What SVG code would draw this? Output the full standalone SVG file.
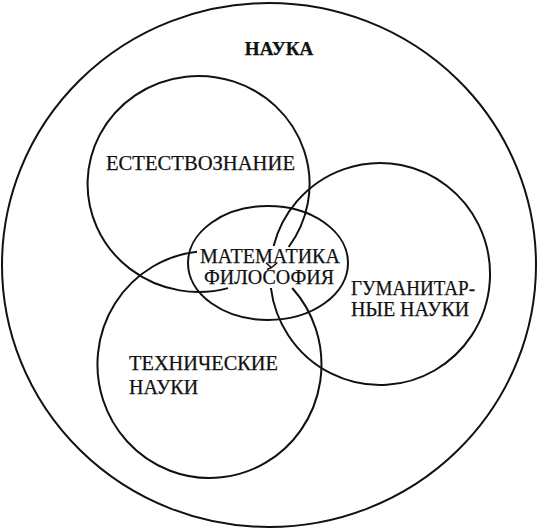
<svg xmlns="http://www.w3.org/2000/svg" width="538" height="530" viewBox="0 0 538 530">
<style>
.c{fill:none;stroke:#111;stroke-width:2}
.m{fill:none;stroke:#111;stroke-width:1.5}
.t{font-family:"Liberation Serif","Times New Roman","DejaVu Serif",serif;font-size:20px;fill:#111;stroke:#111;stroke-width:0.25}
.b{font-weight:bold;font-size:19px}
</style>
<rect width="538" height="530" fill="#fff"/>
<g id="connectors"></g>
<g id="nauka">
<ellipse class="c" cx="269" cy="265" rx="267" ry="262"/>
<text class="t b" x="279" y="55" text-anchor="middle">НАУКА</text>
</g>
<g id="estestvoznanie">
<path class="c" d="M228,288.1 A111,108 0 1 1 288.7,247"/>
<text class="t" x="106" y="170" textLength="189" lengthAdjust="spacingAndGlyphs">ЕСТЕСТВОЗНАНИЕ</text>
</g>
<g id="gumanitarnye">
<path class="c" d="M273.6,246 A110,111 0 1 1 270.9,288"/>
<text class="t" x="351" y="295" textLength="124" lengthAdjust="spacingAndGlyphs">ГУМАНИТАР-</text>
<text class="t" x="351" y="316">НЫЕ НАУКИ</text>
</g>
<g id="tekhnicheskie">
<path class="c" d="M197,251.7 A112,113.5 0 1 0 292.2,288"/>
<text class="t" x="129" y="370" textLength="149" lengthAdjust="spacingAndGlyphs">ТЕХНИЧЕСКИЕ</text>
<text class="t" x="129" y="394">НАУКИ</text>
</g>
<g id="matematika">
<ellipse class="c" cx="268" cy="263" rx="80" ry="57"/>
<text class="t" x="270" y="263" text-anchor="middle">МАТЕМАТИКА</text>
<text class="t" x="269" y="284" text-anchor="middle">ФИЛОСОФИЯ</text>
<path class="m" d="M266,263 L271.5,267.5 L277,263 M271.5,267.5 L267,269.5"/>
</g>
</svg>
